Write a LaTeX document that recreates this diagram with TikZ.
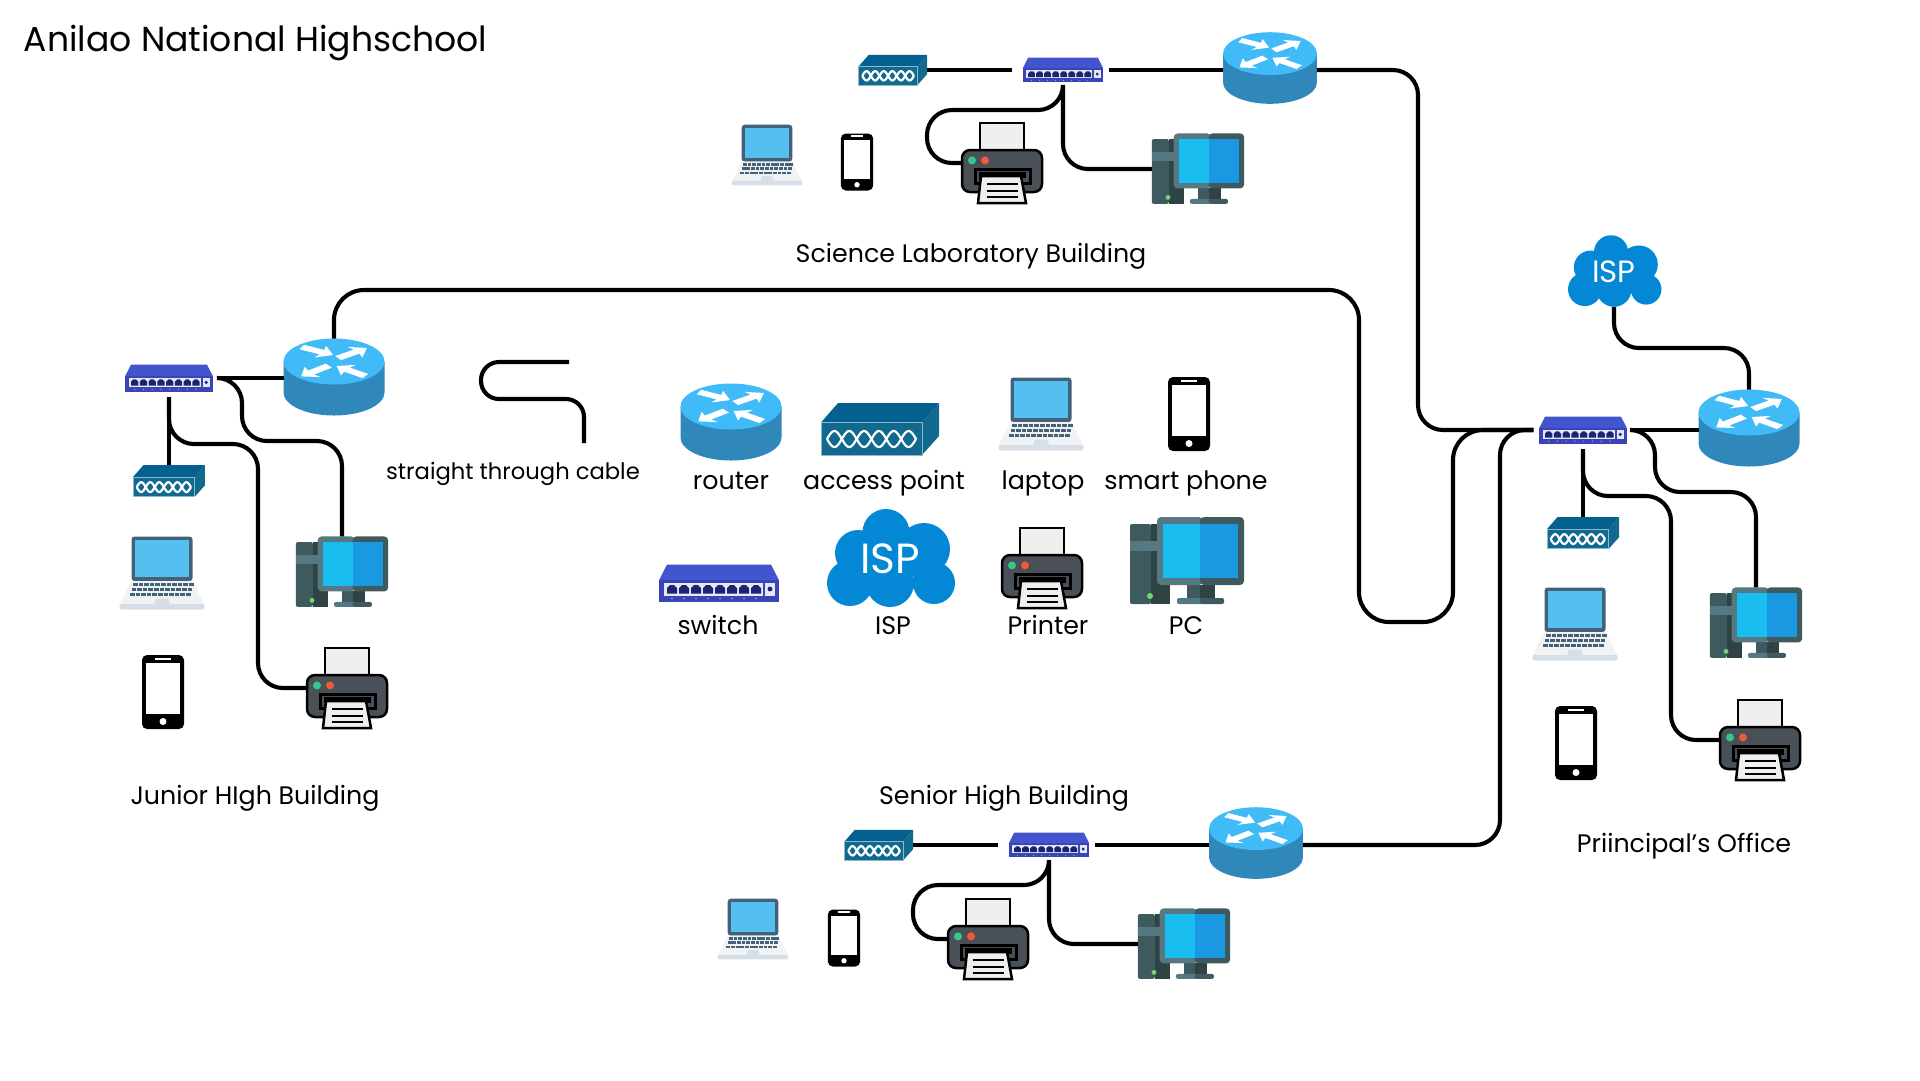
\documentclass[tikz,border=0pt]{standalone}
\usepackage{fontspec}
\setmainfont{Poppins}
\usetikzlibrary{arrows.meta}

\definecolor{routertop}{HTML}{40BBF8}
\definecolor{routerside}{HTML}{2F88B9}
\definecolor{apfront}{HTML}{12698F}
\definecolor{aptop}{HTML}{04618F}
\definecolor{apedge}{HTML}{8DB9CC}
\definecolor{lapframe}{HTML}{43627A}
\definecolor{lapscreen}{HTML}{55BFEF}
\definecolor{lapbase}{HTML}{F1F2F4}
\definecolor{lapstrip}{HTML}{D6DFE8}
\definecolor{swtop}{HTML}{4355CC}
\definecolor{swfront}{HTML}{3A44B8}
\definecolor{swport}{HTML}{1C2470}
\definecolor{swframe}{HTML}{E4E8F6}
\definecolor{swled}{HTML}{6FD86F}
\definecolor{ispblue}{HTML}{0488D5}
\definecolor{prbody}{HTML}{4A5058}
\definecolor{prpaper}{HTML}{EFEFEF}
\definecolor{prgreen}{HTML}{37C78A}
\definecolor{prred}{HTML}{F0593A}
\definecolor{pcdark}{HTML}{2F4244}
\definecolor{pcmid}{HTML}{3F5A5E}
\definecolor{pclight}{HTML}{557883}
\definecolor{pcscreenl}{HTML}{19BDF0}
\definecolor{pcscreenr}{HTML}{1A98E2}

\newcommand{\routerarrow}[3]{\fill[white,shift={(#1,#2)},yscale=.5,rotate=#3] (-17.5,-5) -- (5,-5) -- (3,-13) -- (17.5,0) -- (3,13) -- (5,5) -- (-17.5,5) -- cycle;}
\newcommand{\device}[5]{\node[#2 box,scale=#5,transform shape] (#1) at (#3,#4) {}; \pic[scale=#5] at (#3,#4) {#2};}

\tikzset{
  cable/.style={line width=.41mm,rounded corners=2.5mm},
  lbl/.style={inner sep=0,text height=5pt,text depth=1.5pt,font=\fontsize{7.2}{8.6}\selectfont},
  devbox/.style={inner sep=0,outer sep=0},
  router box/.style={devbox,minimum width=10.1mm,minimum height=7.7mm},
  accesspoint box/.style={devbox,minimum width=11.8mm,minimum height=5.2mm},
  laptop box/.style={devbox,minimum width=8.5mm,minimum height=7.3mm},
  phone box/.style={devbox,minimum width=4.2mm,minimum height=7.4mm},
  netswitch box/.style={devbox,minimum width=12mm,minimum height=3.7mm,outer sep=.8mm},
  ispcloud box/.style={devbox,minimum width=12.9mm,minimum height=9.8mm},
  printer box/.style={devbox,minimum width=8.2mm,minimum height=8mm},
  desktop box/.style={devbox,minimum width=11.4mm,minimum height=8.8mm},
  router/.pic={
    \fill[routerside] (-50.5,15.5) -- (-50.5,-15.5) arc (180:360:50.5 and 23) -- (50.5,15.5) -- cycle;
    \fill[routertop] (0,15.5) ellipse (50.5 and 23);
    \routerarrow{-16.5}{26}{-27}
    \routerarrow{18.5}{24}{35}
    \routerarrow{-19}{6}{218}
    \routerarrow{17}{6}{145}
  },
  accesspoint/.pic={
    \fill[aptop] (-59,6.5) -- (-42,26) -- (59,26) -- (42,6.5) -- cycle;
    \fill[apfront] (42,6.5) -- (59,26) -- (59,-7) -- (42,-26) -- cycle;
    \fill[apfront,draw=apedge,line width=.1mm] (-59,-26) rectangle (42,6.5);
    \draw[white,line width=.22mm,domain=-53:36,samples=97,smooth] plot (\x,{-10+8*sin(180*(\x+53)/14.83)});
    \draw[white,line width=.22mm,domain=-53:36,samples=97,smooth] plot (\x,{-10-8*sin(180*(\x+53)/14.83)});
  },
  laptop/.pic={
    \fill[lapframe,rounded corners=.3mm] (-30.5,-8) rectangle (30.5,36.5);
    \fill[lapscreen] (-27,-4) rectangle (27,33);
    \fill[lapbase] (-30.5,-8) -- (-42.5,-32) -- (42.5,-32) -- (30.5,-8) -- cycle;
    \fill[lapstrip,rounded corners=.2mm] (-42.5,-36.5) rectangle (42.5,-31);
    \foreach \r/\o in {-13/-29,-18/-30.5,-23/-32}
      \foreach \k in {0,...,10}
        \fill[lapframe] ({\o+\k*5.6},\r) rectangle ++(4.6,3);
    \fill[lapstrip] (-6,-25.5) -- (6,-25.5) -- (8,-31) -- (-8,-31) -- cycle;
  },
  phone/.pic={
    \fill[black,rounded corners=.5mm] (-21,-37) rectangle (21,37);
    \fill[white] (-17,-22) rectangle (17,29);
    \fill[white] (-8,32) rectangle (8,34.5);
    \fill[white] (0,-29.5) circle (3.5);
  },
  netswitch/.pic={
    \fill[swtop] (-52,18.5) -- (52,18.5) -- (60,2.7) -- (-60,2.7) -- cycle;
    \fill[swfront] (-60,2.7) rectangle (60,-18.5);
    \fill[swframe] (-55,.5) rectangle (44,-12.5);
    \foreach \x in {-47,-35,-23,-11,1,13,25,37}{
      \fill[swport] (\x-5,-10.5) rectangle (\x+5,-5) -- (\x+2,-2) -- (\x-2,-2) -- (\x-5,-5) -- cycle;
      \fill[swled] (\x,-15.5) circle (.9);
    }
    \fill[swframe] (46,.5) rectangle (56,-12.5);
    \fill[swport] (51,-6) circle (2.4);
  },
  ispcloud/.pic={
    \fill[ispblue] (-4,25.5) circle (23.5) (-32,5) circle (23) (-40,-25) circle (23)
      (34,9) circle (26) (44,-25) circle (21) (0,-25) circle (24) (0,0) circle (30);
    \node[text=white,inner sep=0,font=\fontsize{12}{14}\selectfont,transform shape] (ispname) at (0,-1) {ISP};
  },
  printer/.pic={
    \draw[black,fill=prpaper,line width=.25mm] (-22,13) rectangle (22,40);
    \fill[prbody,draw=black,line width=.25mm,rounded corners=.8mm] (-40,-29) rectangle (40,13);
    \fill[prgreen] (-30,2.6) circle (4);
    \fill[prred] (-17,2.6) circle (4);
    \fill[prbody,draw=black,line width=.3mm] (-27,-20) rectangle (28,-6);
    \fill[black] (-23,-15) rectangle (24,-9);
    \draw[black,fill=prpaper,line width=.25mm] (-21,-13) -- (19,-13) -- (24,-40) -- (-24,-40) -- cycle;
    \foreach \y in {-21,-28,-34}
      \draw[black,line width=.22mm] (-15,\y) -- (16,\y);
  },
  desktop/.pic={
    \fill[pcmid,rounded corners=.2mm] (-57,-43) rectangle (-36,37);
    \fill[pcdark] (-36,-43) rectangle (-17,37);
    \fill[pclight] (-57,9.7) rectangle (-30,20.5);
    \fill[swled] (-37,-35) circle (3);
    \fill[pcmid] (0,-37) rectangle (13,-24);
    \fill[pcdark] (13,-37) rectangle (28,-24);
    \fill[pclight,rounded corners=.2mm] (-10,-43) rectangle (16,-37);
    \fill[pcmid,rounded corners=.2mm] (13,-43) rectangle (37,-37);
    \fill[pclight,rounded corners=.4mm] (-30,-24) rectangle (16,44);
    \fill[pcmid,rounded corners=.4mm] (13,-24) rectangle (57,44);
    \fill[pcscreenl] (-24,-17) rectangle (13,37);
    \fill[pcscreenr] (13,-17) rectangle (50.5,37);
  }
}

\begin{document}
\begin{tikzpicture}[x=.1mm,y=.1mm]
  \useasboundingbox (0,0) rectangle (1920,-1080);

  \device{scienceAp}{accesspoint}{893}{-70}{.58}
  \device{scienceSwitch}{netswitch}{1063}{-70}{.67}
  \device{scienceRouter}{router}{1270}{-68}{.93}
  \device{scienceLaptop}{laptop}{767}{-155}{.83}
  \device{sciencePhone}{phone}{857}{-162}{.77}
  \device{sciencePrinter}{printer}{1002}{-163}{1}
  \device{scienceDesktop}{desktop}{1198}{-169}{.81}

  \device{seniorAp}{accesspoint}{879}{-845}{.58}
  \device{seniorSwitch}{netswitch}{1049}{-845}{.67}
  \device{seniorRouter}{router}{1256}{-843}{.93}
  \device{seniorLaptop}{laptop}{753}{-929}{.83}
  \device{seniorPhone}{phone}{844}{-938}{.77}
  \device{seniorPrinter}{printer}{988}{-939}{1}
  \device{seniorDesktop}{desktop}{1184}{-944}{.81}

  \device{juniorSwitch}{netswitch}{169}{-378}{.73}
  \device{juniorRouter}{router}{334}{-377}{1}
  \device{juniorAp}{accesspoint}{169}{-481}{.61}
  \device{juniorLaptop}{laptop}{162}{-573}{1}
  \device{juniorPhone}{phone}{163}{-692}{1}
  \device{juniorDesktop}{desktop}{342}{-572}{.81}
  \device{juniorPrinter}{printer}{347}{-688}{1}

  \device{officeSwitch}{netswitch}{1583}{-430}{.73}
  \device{officeRouter}{router}{1749}{-428}{1}
  \device{officeAp}{accesspoint}{1583}{-533}{.61}
  \device{officeLaptop}{laptop}{1575}{-624}{1}
  \device{officePhone}{phone}{1576}{-743}{1}
  \device{officeDesktop}{desktop}{1756}{-623}{.81}
  \device{officePrinter}{printer}{1760}{-740}{1}
  \device{officeIsp}{ispcloud}{1614}{-271}{.73}

  \device{keyRouter}{router}{731}{-422}{1}
  \device{keyAp}{accesspoint}{880}{-429}{1}
  \device{keyLaptop}{laptop}{1041}{-414}{1}
  \device{keyPhone}{phone}{1189}{-414}{1}
  \device{keySwitch}{netswitch}{719}{-583}{1}
  \device{keyIsp}{ispcloud}{890}{-558}{1}
  \device{keyPrinter}{printer}{1042}{-568}{1}
  \device{keyDesktop}{desktop}{1187}{-561}{1}

  \node[inner sep=0,anchor=west,font=\fontsize{9.85}{12}\selectfont] (title) at (23,-43) {Anilao National Highschool};
  \node[lbl] (scienceLabel) at (971,-256) {Science Laboratory Building};
  \node[lbl] (juniorLabel) at (255,-798) {Junior HIgh Building};
  \node[lbl] (seniorLabel) at (1004,-798) {Senior High Building};
  \node[lbl] (officeLabel) at (1684,-846) {Priincipal’s Office};
  \node[lbl,font=\fontsize{6.45}{8}\selectfont] (cableLabel) at (513,-473) {straight through cable};
  \node[lbl] (routerLabel) at (731,-483) {router};
  \node[lbl] (apLabel) at (884,-483) {access point};
  \node[lbl] (laptopLabel) at (1043,-483) {laptop};
  \node[lbl] (phoneLabel) at (1186,-483) {smart phone};
  \node[lbl] (switchLabel) at (718,-628) {switch};
  \node[lbl] (ispLabel) at (893,-628) {ISP};
  \node[lbl] (printerLabel) at (1048,-628) {Printer};
  \node[lbl] (desktopLabel) at (1186,-628) {PC};

  \draw[cable,shorten >=.5mm] (scienceAp.east) -- (scienceSwitch.west);
  \draw[cable] (scienceSwitch.east) -- (scienceSwitch.east -| scienceRouter.west);
  \draw[cable] (scienceSwitch.east -| scienceRouter.east) -| (1418,-200) |- (officeSwitch.west);
  \draw[cable] (scienceSwitch.south) |- (scienceDesktop.west);
  \draw[cable] (scienceSwitch.south) |- (927,-110) |- (sciencePrinter.west);

  \draw[cable,shorten >=.5mm] (seniorAp.east) -- (seniorSwitch.west);
  \draw[cable] (seniorSwitch.east) -- (seniorSwitch.east -| seniorRouter.west);
  \draw[cable] (seniorSwitch.east -| seniorRouter.east) -| (1500,-600) |- (officeSwitch.west);
  \draw[cable] (seniorSwitch.south) |- (seniorDesktop.west);
  \draw[cable] (seniorSwitch.south) |- (913,-885) |- (seniorPrinter.west);

  \draw[cable] (juniorSwitch.east) -- (juniorSwitch.east -| juniorRouter.west);
  \draw[cable] (juniorSwitch.south) -- (juniorAp.north);
  \draw[cable] (juniorSwitch.east) -| (242,-441) -| (juniorDesktop.north);
  \draw[cable] (juniorSwitch.south) |- (258,-444) |- (juniorPrinter.west);
  \draw[cable,rounded corners=3mm] (juniorRouter.north) |- (1359,-290) -- (1359,-622) -- (1453,-622) |- (officeSwitch.west);

  \draw[cable] (officeSwitch.east) -- (officeSwitch.east -| officeRouter.west);
  \draw[cable] (officeSwitch.south) -- (officeAp.north);
  \draw[cable] (officeSwitch.east) -| (1655,-492) -| (officeDesktop.north);
  \draw[cable] (officeSwitch.south) |- (1671,-496) |- (officePrinter.west);
  \draw[cable] (officeIsp.south) |- (1680,-348) -| (officeRouter.north);

  \coordinate (cableStart) at (569,-362);
  \coordinate (cableEnd) at (584,-443);
  \draw[cable,rounded corners=1.8mm] (cableStart) -- (481,-362) -- (481,-399) -- (584,-399) -- (cableEnd);
\end{tikzpicture}
\end{document}
